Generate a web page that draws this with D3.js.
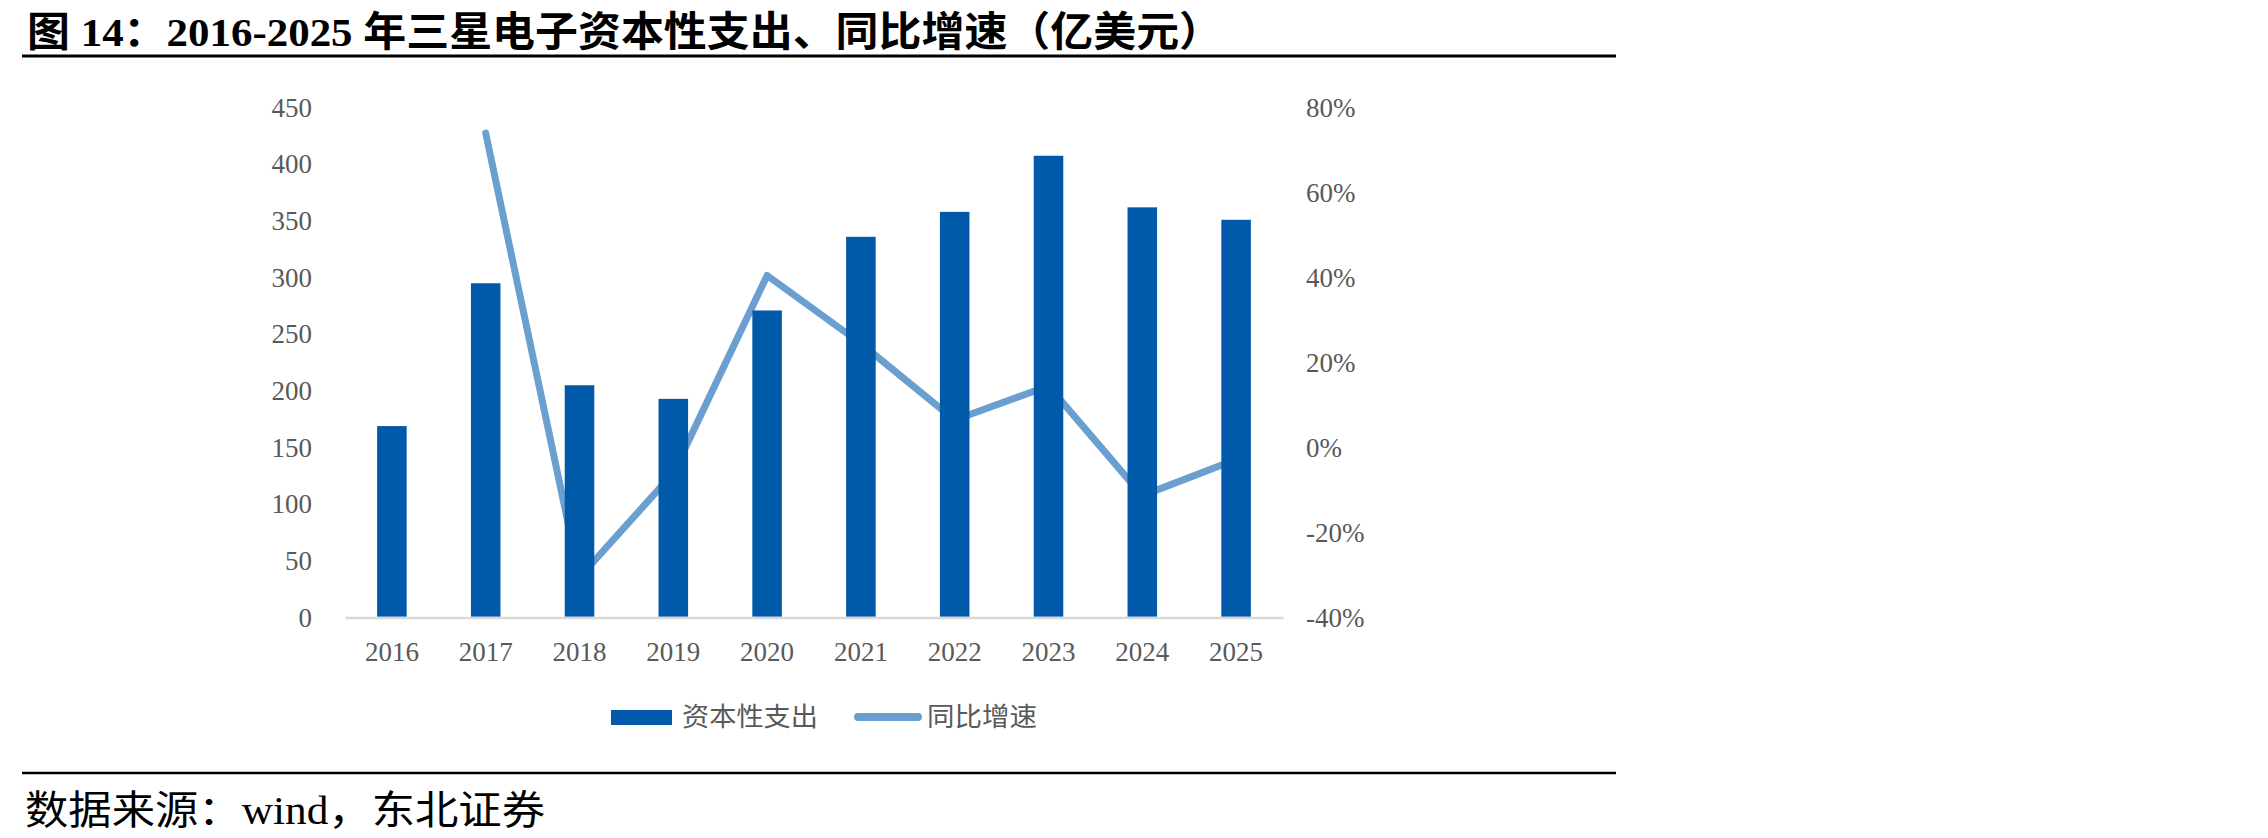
<!DOCTYPE html>
<html><head><meta charset="utf-8">
<script src="https://cdn.jsdelivr.net/npm/d3@7"></script>
<style>html,body{margin:0;padding:0;background:#fff;}</style>
</head><body>
<svg id="c" width="2268" height="838"></svg>
<script>
const years = ["2016","2017","2018","2019","2020","2021","2022","2023","2024","2025"];
const capex = [169, 295, 205, 193, 271, 336, 358, 407.5, 362, 351];
const growth = [null, 74, -30.5, -6, 40.5, 24.5, 6.5, 14.5, -11.3, -2.8];
const leftTicks = [0, 50, 100, 150, 200, 250, 300, 350, 400, 450];
const rightTicks = [-40, -20, 0, 20, 40, 60, 80];
const seriesNames = ["资本性支出", "同比增速"];
const titleText = "图 14：2016-2025 年三星电子资本性支出、同比增速（亿美元）";
const sourceText = "数据来源：wind，东北证券";

const svg = d3.select("#c");
const barColor = "#0059A9", lineColor = "#6A9FD0", txtColor = "#595959";
const serif = "'Liberation Serif','Times New Roman','Noto Sans CJK SC',serif";
const cjk = "'Noto Sans CJK SC','Liberation Serif',sans-serif";

// title
svg.append("text").attr("x", 27).attr("y", 46)
  .attr("font-family", "'Liberation Serif','Noto Sans CJK SC',serif")
  .attr("font-weight", "bold").attr("font-size", 41).attr("fill", "#000")
  .attr("textLength", 1195).attr("lengthAdjust", "spacingAndGlyphs")
  .text(titleText);
svg.append("line").attr("x1", 22).attr("x2", 1616).attr("y1", 56).attr("y2", 56)
  .attr("stroke", "#000").attr("stroke-width", 3);

// scales
const x = d3.scaleBand().domain(years).range([345, 1283]).paddingInner(0.685).paddingOuter(0.3425);
const yL = d3.scaleLinear().domain([0, 450]).range([617.6, 107.6]);
const yR = d3.scaleLinear().domain([-40, 80]).range([617.6, 107.6]);

// left axis
const axL = svg.append("g").attr("transform", "translate(312,0)")
  .call(d3.axisLeft(yL).tickValues(leftTicks).tickSize(0).tickPadding(0));
axL.select(".domain").remove();
axL.selectAll("text").attr("font-family", serif).attr("font-size", 27).attr("fill", txtColor);

// right axis
const axR = svg.append("g").attr("transform", "translate(1306,0)")
  .call(d3.axisRight(yR).tickValues(rightTicks).tickSize(0).tickPadding(0).tickFormat(d => d + "%"));
axR.select(".domain").remove();
axR.selectAll("text").attr("font-family", serif).attr("font-size", 27).attr("fill", txtColor);

// x axis
const axX = svg.append("g").attr("transform", "translate(0,617.6)")
  .call(d3.axisBottom(x).tickSize(0).tickPadding(24));
axX.select(".domain").attr("stroke", "#D9D9D9").attr("stroke-width", 2.5);
axX.selectAll("text").attr("font-family", serif).attr("font-size", 27).attr("fill", txtColor);

// line (behind bars)
const pts = years.map((y, i) => ({y, v: growth[i]}));
svg.append("path").datum(pts)
  .attr("fill", "none").attr("stroke", lineColor).attr("stroke-width", 7)
  .attr("stroke-linejoin", "round").attr("stroke-linecap", "round")
  .attr("d", d3.line().defined(d => d.v !== null)
    .x(d => x(d.y) + x.bandwidth() / 2).y(d => yR(d.v)));

// bars
svg.append("g").selectAll("rect").data(years).join("rect")
  .attr("x", d => x(d)).attr("width", x.bandwidth())
  .attr("y", (d, i) => yL(capex[i])).attr("height", (d, i) => yL(0) - yL(capex[i]) - 1)
  .attr("fill", barColor);

// legend
const lg = svg.append("g");
lg.append("rect").attr("x", 611).attr("y", 710).attr("width", 61).attr("height", 15).attr("fill", barColor);
lg.append("text").attr("x", 682).attr("y", 717).attr("dy", "0.36em")
  .attr("font-family", cjk).attr("font-size", 26).attr("fill", txtColor)
  .attr("textLength", 136).attr("lengthAdjust", "spacingAndGlyphs").text(seriesNames[0]);
lg.append("line").attr("x1", 858).attr("x2", 918).attr("y1", 717).attr("y2", 717)
  .attr("stroke", lineColor).attr("stroke-width", 8).attr("stroke-linecap", "round");
lg.append("text").attr("x", 927).attr("y", 717).attr("dy", "0.36em")
  .attr("font-family", cjk).attr("font-size", 26).attr("fill", txtColor)
  .attr("textLength", 110).attr("lengthAdjust", "spacingAndGlyphs").text(seriesNames[1]);

// source
svg.append("line").attr("x1", 22).attr("x2", 1616).attr("y1", 773).attr("y2", 773)
  .attr("stroke", "#000").attr("stroke-width", 2.5);
svg.append("text").attr("x", 25).attr("y", 824)
  .attr("font-family", "'Liberation Serif','Noto Sans CJK SC',serif")
  .attr("font-size", 40).attr("fill", "#000")
  .attr("textLength", 520).attr("lengthAdjust", "spacingAndGlyphs")
  .text(sourceText);
</script>
</body></html>
